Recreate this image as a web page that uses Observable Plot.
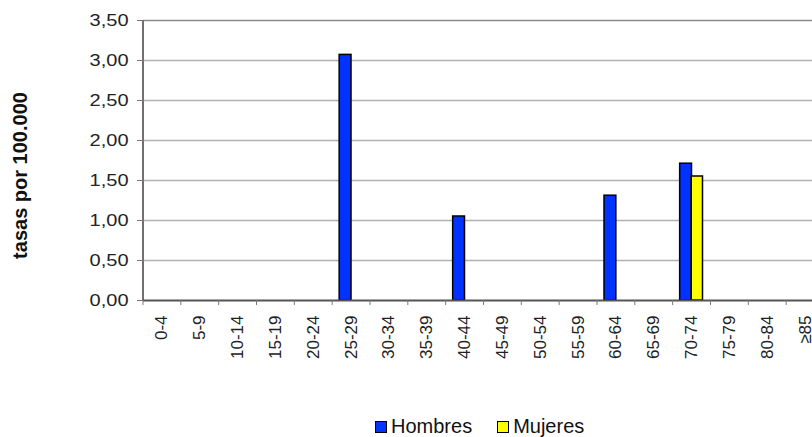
<!DOCTYPE html>
<html>
<head>
<meta charset="utf-8">
<script src="https://cdn.jsdelivr.net/npm/d3@7"></script>
<script src="https://cdn.jsdelivr.net/npm/@observablehq/plot@0.6"></script>
<style>
  html, body { margin: 0; padding: 0; background: #fff; }
  body { width: 812px; height: 437px; position: relative; overflow: hidden; font-family: "Liberation Sans", Arial, sans-serif; }
  #chart svg { display: block; }
  .legend { position: absolute; left: 375px; top: 415px; display: flex; align-items: center; font-size: 20px; color: #111; }
  .legend .item { display: flex; align-items: center; }
  .legend .item + .item { margin-left: 25px; }
  .legend .sw { width: 10px; height: 10px; border: 1.5px solid #000; margin-right: 4px; }
</style>
</head>
<body>
<div id="chart"></div>
<div class="legend">
  <div class="item"><span class="sw" style="background:#0033ff"></span><span>Hombres</span></div>
  <div class="item"><span class="sw" style="background:#ffff00"></span><span>Mujeres</span></div>
</div>
<script>
const ages = ["0-4","5-9","10-14","15-19","20-24","25-29","30-34","35-39","40-44","45-49","50-54","55-59","60-64","65-69","70-74","75-79","80-84","≥85"];
const hombres = [0,0,0,0,0,3.07,0,0,1.05,0,0,0,1.31,0,1.71,0,0,0];
const mujeres = [0,0,0,0,0,0,0,0,0,0,0,0,0,0,1.55,0,0,0];
const yTicks = [0,0.5,1,1.5,2,2.5,3,3.5];
const yTitle = "tasas por 100.000";
const seriesNames = ["Hombres","Mujeres"];
const seriesColors = ["#0033ff","#ffff00"];

const xRange = [142.5, 823.5];
const step = (xRange[1] - xRange[0]) / ages.length;

const dataH = ages.map((a, i) => ({age: a, v: hombres[i]})).filter(d => d.v > 0);
const dataM = ages.map((a, i) => ({age: a, v: mujeres[i]})).filter(d => d.v > 0);
const fmt = d => d.toFixed(2).replace(".", ",");

const chart = Plot.plot({
  width: 812,
  height: 410,
  marginLeft: 143,
  marginRight: 0,
  marginTop: 20,
  marginBottom: 110,
  style: {fontFamily: "'Liberation Sans', Arial, sans-serif", color: "#222", background: "#fff"},
  x: {domain: ages, range: xRange, padding: 0, round: false},
  y: {domain: [0, 3.5]},
  marks: [
    Plot.ruleY(yTicks.filter(v => v > 0 && v < 3.5), {stroke: "#b0b0b0", strokeWidth: 1.3}),
    Plot.ruleY([3.5], {stroke: "#8a8a8a", strokeWidth: 1.6}),
    Plot.barY(dataH, {x: "age", y: "v", fill: seriesColors[0], stroke: "#000", strokeWidth: 1.5, insetLeft: 7.5, insetRight: 18.5}),
    Plot.barY(dataM, {x: "age", y: "v", fill: seriesColors[1], stroke: "#000", strokeWidth: 1.5, insetLeft: 19, insetRight: 7.5}),
    Plot.ruleX([ages[0]], {dx: -step / 2, y1: 0, y2: 3.5, stroke: "#707070", strokeWidth: 2}),
    Plot.ruleY([0], {stroke: "#555", strokeWidth: 2}),
    Plot.axisY({ticks: yTicks, tickFormat: fmt, tickSize: 6, tickPadding: 9, fontSize: 16, label: null, stroke: "#777", className: "yax"}),
    Plot.axisX({tickSize: 5, text: null, dx: -step / 2, stroke: "#777", label: null}),
    Plot.axisX({tickSize: 0, tickPadding: 15, tickRotate: -90, fontSize: 17, label: null}),
    Plot.text([yTitle], {frameAnchor: "left", textAnchor: "middle", rotate: -90, dx: -123, dy: 15, fontWeight: "bold", fontSize: 20, fill: "#111"})
  ]
});
document.getElementById("chart").appendChild(chart);
// widen y tick labels slightly, as in the reference (glyphs look horizontally stretched)
chart.querySelectorAll("[aria-label='y-axis tick label'] text").forEach(t => {
  const w = t.getComputedTextLength();
  t.setAttribute("textLength", (w * 1.25).toFixed(1));
  t.setAttribute("lengthAdjust", "spacingAndGlyphs");
});
</script>
</body>
</html>
